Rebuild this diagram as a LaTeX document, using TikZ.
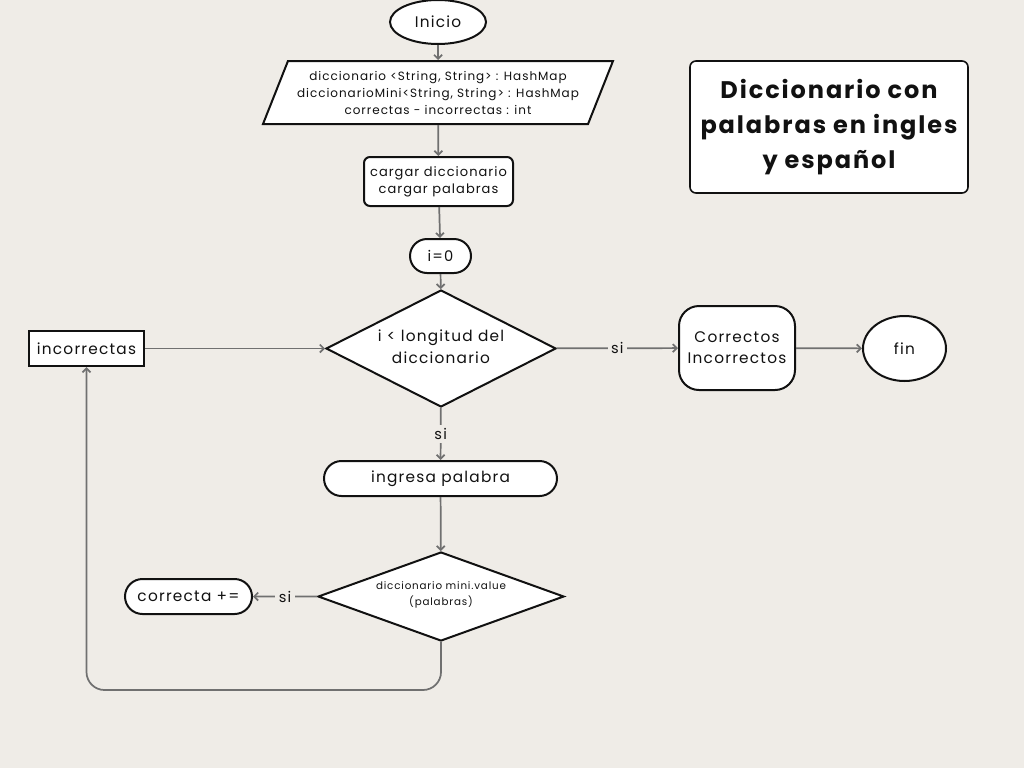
\documentclass[tikz,border=0pt]{standalone}
\usepackage{fontspec}
\setmainfont{Poppins}[LetterSpace=8]
\usetikzlibrary{shapes.geometric,shapes.misc,arrows.meta}
\definecolor{bg}{RGB}{239,236,231}
\definecolor{ln}{RGB}{112,112,112}
\definecolor{bd}{RGB}{17,17,17}
\begin{document}
\begin{tikzpicture}[x=0.75pt,y=-0.75pt,
  base/.style={draw=bd, line width=1.5pt, fill=white, inner sep=0pt, align=center,
    font=\fontsize{11.5}{15.5}\selectfont, text=bd},
  ovalnode/.style={base, ellipse},
  parabox/.style={base, trapezium, trapezium left angle=60, trapezium right angle=120,
    trapezium stretches body, font=\fontsize{9}{12.75}\selectfont},
  procbox/.style={base, rectangle, rounded corners=4.5pt},
  pill/.style={base, rounded rectangle},
  decision/.style={base, diamond},
  dtext/.style={align=center, inner sep=0pt, text=bd},
  plainbox/.style={base, rectangle, line width=1.8pt},
  arr/.style={draw=ln, line width=1.3pt, -{Straight Barb[length=3pt,width=6pt]}},
  lbl/.style={fill=bg, inner sep=2.5pt, font=\fontsize{11}{13}\selectfont, text=bd}
]
\useasboundingbox[fill=bg] (0,0) rectangle (1024,768);

\node[ovalnode, minimum width=72pt, minimum height=33pt] (inicio) at (438,22) {Inicio};
\node[parabox, minimum width=262.5pt, minimum height=47.25pt] (vars) at (438,92.5)
  {diccionario <String, String> : HashMap\\ diccionarioMini<String, String> : HashMap\\ correctas - incorrectas : int};
\node[procbox, minimum width=111.75pt, minimum height=36.75pt, font=\fontsize{9.75}{12.75}\selectfont] (cargar) at (438.5,181.5)
  {cargar diccionario\\cargar palabras};
\node[pill, minimum width=45.75pt, minimum height=25.5pt, font=\fontsize{11}{13}\selectfont] (i0) at (440.5,256) {i=0};
\node[decision, minimum width=172.5pt, minimum height=87.75pt] (d1) at (441,348.5) {};
\node[dtext, font=\fontsize{11.5}{16.5}\selectfont] (d1t) at (441,347) {i < longitud del\\diccionario};
\node[plainbox, minimum width=86.25pt, minimum height=26.25pt] (inc) at (86.5,348.5) {incorrectas};
\node[procbox, rounded corners=15pt, minimum width=87pt, minimum height=63pt, font=\fontsize{11.5}{15.75}\selectfont] (corr) at (737,348)
  {Correctos\\Incorrectos};
\node[ovalnode, minimum width=62.25pt, minimum height=48.75pt] (fin) at (904.5,348.5) {fin};
\node[pill, minimum width=174.75pt, minimum height=26.25pt] (ingresa) at (440.5,478.5) {ingresa palabra};
\node[decision, minimum width=184.5pt, minimum height=66.75pt] (d2) at (441,596.5) {};
\node[dtext, font=\fontsize{7.75}{12}\selectfont] (d2t) at (441,595) {diccionario mini.value\\(palabras)};
\node[pill, minimum width=95.25pt, minimum height=26.25pt] (correcta) at (188.5,596.5) {correcta +=};
\node[procbox, line width=1.2pt, minimum width=208.5pt, minimum height=99pt,
  font=\fontsize{18}{26.5}\selectfont\bfseries] (title) at (829,127)
  {Diccionario con\\palabras en ingles\\y español};

\coordinate (bend) at (441,690);

\draw[arr] (inicio) -- (vars);
\draw[arr] (vars) -- (cargar);
\draw[arr] (cargar) -- (i0);
\draw[arr] (i0) -- (d1);
\draw[arr] (inc) -- (d1);
\draw[arr] (d1) -- node[lbl]{si} (corr);
\draw[arr] (corr) -- (fin);
\draw[arr] (d1) -- node[lbl]{si} (ingresa);
\draw[arr] (ingresa) -- (d2);
\draw[arr] (d2) -- node[lbl]{si} (correcta);
\draw[arr, rounded corners=13.5pt] (d2.south) -- (bend) -| (inc.south);
\end{tikzpicture}
\end{document}
